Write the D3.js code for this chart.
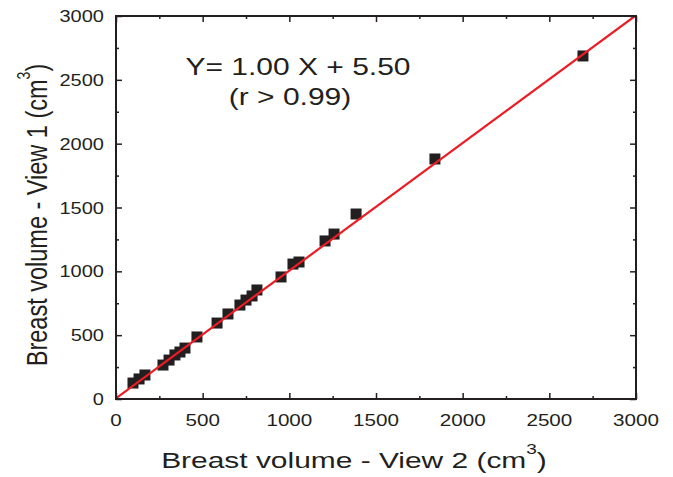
<!DOCTYPE html>
<html><head><meta charset="utf-8">
<script src="https://cdn.jsdelivr.net/npm/d3@7"></script>
<style>body{margin:0;background:#fff}svg{display:block}text{font-family:"Liberation Sans",Arial,sans-serif;fill:#231f20}</style>
</head><body><svg id="c" width="673" height="477"></svg>
<script>
const view2 = [98,133,167,271,306,340,369,398,467,583,646,715,750,785,813,952,1021,1056,1206,1258,1385,1840,2694];
const view1 = [125,157,188,266,305,345,368,399,486,595,666,736,775,807,854,956,1057,1073,1238,1292,1449,1880,2687];
const fitSlope = 1.00, fitIntercept = 5.50;
const majorTicks = [0,500,1000,1500,2000,2500,3000];
const minorTicks = [250,750,1250,1750,2250,2750];
const eqText = "Y= 1.00 X + 5.50";
const rText = "(r > 0.99)";

const svg = d3.select("#c");
const L=116,R=636,T=16,B=399;
const x = d3.scaleLinear().domain([0,3000]).range([L,R]);
const y = d3.scaleLinear().domain([0,3000]).range([B,T]);
const ink="#231f20";

svg.append("clipPath").attr("id","clip").append("rect").attr("x",L).attr("y",T).attr("width",R-L).attr("height",B-T);

// markers
svg.append("g").selectAll("rect").data(view2.map((v,i)=>[v,view1[i]])).join("rect")
  .attr("x",d=>x(d[0])-5.5).attr("y",d=>y(d[1])-5.5).attr("width",11).attr("height",11).attr("fill",ink);

// fit line
svg.append("line").attr("clip-path","url(#clip)")
  .attr("x1",x(0)).attr("y1",y(fitIntercept)).attr("x2",x(3000)).attr("y2",y(3000*fitSlope+fitIntercept))
  .attr("stroke","#ec1c24").attr("stroke-width",2.2);

// axes with inward ticks on all sides
function ax(gen, tr, vals, size){
  const g = svg.append("g").attr("transform",tr).call(gen.tickValues(vals).tickSize(size).tickFormat(""));
  g.select(".domain").remove();
  g.selectAll("line").attr("stroke",ink).attr("stroke-width",1.5);
}
ax(d3.axisTop(x),`translate(0,${B})`,majorTicks,6);
ax(d3.axisTop(x),`translate(0,${B})`,minorTicks,3);
ax(d3.axisBottom(x),`translate(0,${T})`,majorTicks,6);
ax(d3.axisBottom(x),`translate(0,${T})`,minorTicks,3);
ax(d3.axisRight(y),`translate(${L},0)`,majorTicks,6);
ax(d3.axisRight(y),`translate(${L},0)`,minorTicks,3);
ax(d3.axisLeft(y),`translate(${R},0)`,majorTicks,6);
ax(d3.axisLeft(y),`translate(${R},0)`,minorTicks,3);

svg.append("rect").attr("x",L).attr("y",T).attr("width",R-L).attr("height",B-T)
  .attr("fill","none").attr("stroke",ink).attr("stroke-width",2);

function stext(px,py,str,size,anchor,sx,rot){
  const g = svg.append("g").attr("transform",`translate(${px},${py}) scale(${sx},1)${rot?" rotate(-90)":""}`);
  return g.append("text").attr("font-size",size).attr("text-anchor",anchor).text(str);
}
majorTicks.forEach(v=>{
  stext(x(v),426,v,16.5,"middle",1.25);
  stext(104,y(v)+6,v,16,"end",1.25);
});

stext(298,75,eqText,24,"middle",1.25);
stext(290,105,rText,24,"middle",1.25);

// x label
const xl = stext(354,468,"Breast volume - View 2 (cm",22,"middle",1.36);
xl.append("tspan").attr("font-size",14).attr("dy",-14).text("3");
xl.append("tspan").attr("dy",14).text(")");
// y label
const yl = stext(47,215,"Breast volume - View 1 (cm",23.5,"middle",1.25,true);
yl.append("tspan").attr("font-size",14).attr("dy",-14).text("3");
yl.append("tspan").attr("dy",14).text(")");
</script></body></html>
